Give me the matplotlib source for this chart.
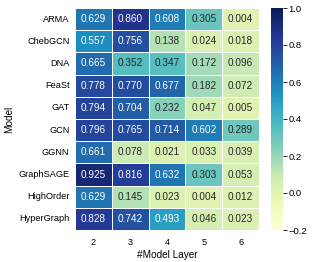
import matplotlib
matplotlib.use("Agg")
import matplotlib.pyplot as plt
import seaborn as sns
import numpy as np

models = ["ARMA", "ChebGCN", "DNA", "FeaSt", "GAT", "GCN", "GGNN", "GraphSAGE", "HighOrder", "HyperGraph"]
layers = ["2", "3", "4", "5", "6"]
values = [
    [0.629, 0.860, 0.608, 0.305, 0.004],
    [0.557, 0.756, 0.138, 0.024, 0.018],
    [0.665, 0.352, 0.347, 0.172, 0.096],
    [0.778, 0.770, 0.677, 0.182, 0.072],
    [0.794, 0.704, 0.232, 0.047, 0.005],
    [0.796, 0.765, 0.714, 0.602, 0.289],
    [0.661, 0.078, 0.021, 0.033, 0.039],
    [0.925, 0.816, 0.632, 0.303, 0.053],
    [0.629, 0.145, 0.023, 0.004, 0.012],
    [0.828, 0.742, 0.493, 0.046, 0.023],
]

plt.rcParams['font.family'] = ['Liberation Sans', 'DejaVu Sans']
fig = plt.figure(figsize=(3.12, 2.62), dpi=100)
W, H = 312, 262
ax = fig.add_axes([75/W, 1-230/H, (259-75)/W, (230-8)/H])
cax = fig.add_axes([271/W, 1-230/H, (283-271)/W, (230-8)/H])

data = np.array(values)
sns.heatmap(data, ax=ax, cbar_ax=cax, cmap="YlGnBu", vmin=-0.2, vmax=1.0,
            annot=True, fmt=".3f", annot_kws={"fontsize": 7.2},
            linewidths=0.6, linecolor="white",
            xticklabels=layers, yticklabels=models)
ax.tick_params(axis='both', length=0, labelsize=6.6, pad=4)
ax.tick_params(axis='x', pad=6)
ax.set_yticklabels(models, rotation=0)
ax.set_xticklabels(layers, rotation=0)
ax.set_xlabel("#Model Layer", fontsize=7.2, labelpad=2)
ax.set_ylabel("Model", fontsize=7.2, labelpad=3)
cax.tick_params(labelsize=6.8, length=3, width=0.6, pad=1)
cax.set_yticks([-0.2, 0.0, 0.2, 0.4, 0.6, 0.8, 1.0])
for s in cax.spines.values():
    s.set_visible(False)

fig.savefig("out.png", dpi=100)
